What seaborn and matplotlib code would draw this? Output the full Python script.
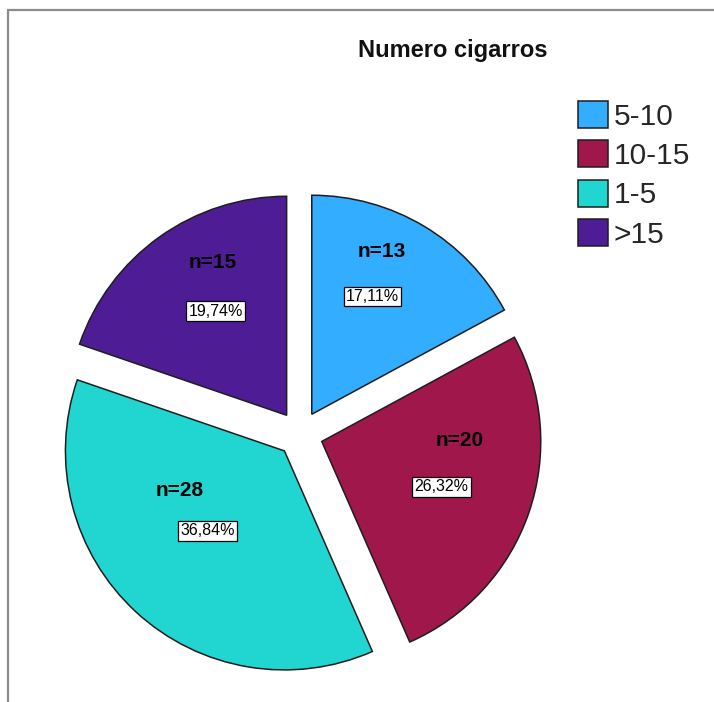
import numpy as np
import matplotlib
matplotlib.use("Agg")
import matplotlib.pyplot as plt
from matplotlib.lines import Line2D
import seaborn as sns

# Number of cigarettes per day: categories, counts and colours
categories = ["5-10", "10-15", "1-5", ">15"]
counts = [13, 20, 28, 15]
colors = ["#33adff", "#a0174b", "#21d6d1", "#4e1d96"]
title = "Numero cigarros"

sns.set_theme(style="white")
plt.rcParams["font.family"] = ["Liberation Sans", "DejaVu Sans"]

W, H, DPI = 714, 702, 100
fig = plt.figure(figsize=(W / DPI, H / DPI), dpi=DPI)
fig.patch.set_facecolor("white")

# Pie placement in pixels: centre and radius
cx, cy, rad, half = 300, 434, 219, 262
ax = fig.add_axes([(cx - half) / W, (H - cy - half) / H, 2 * half / W, 2 * half / H])

explode_frac = 0.105
wedges, _ = ax.pie(
    counts,
    colors=colors,
    startangle=90,
    counterclock=False,
    explode=[explode_frac] * len(counts),
    radius=1.0,
    wedgeprops=dict(edgecolor="#1e1e1e", linewidth=1.1),
)
# pie() resets the limits, so fix the scale afterwards
lim = half / rad
ax.set_xlim(-lim, lim)
ax.set_ylim(-lim, lim)
ax.set_aspect("equal")
ax.axis("off")

# Labels inside each slice: count and percentage
total = sum(counts)
label_radius = [0.71, 0.69, 0.61, 0.68]
label_turn_deg = [3, -1.5, -1, -1]
n_offsets_px = [(9, 45), (18, 46), (-28, 40), (-3, 49)]
for w, c, lr, tw, (dx, dy) in zip(wedges, counts, label_radius, label_turn_deg, n_offsets_px):
    ang = np.deg2rad((w.theta1 + w.theta2) / 2 + tw)
    px, py = lr * np.cos(ang), lr * np.sin(ang)
    pct = f"{100 * c / total:.2f}%".replace(".", ",")
    ax.text(px, py, pct, ha="center", va="center", fontsize=11.5, color="black",
            bbox=dict(boxstyle="square,pad=0.15", facecolor="white",
                      edgecolor="black", linewidth=0.9))
    ax.text(px + dx / rad, py + dy / rad, f"n={c}", ha="center", va="center",
            fontsize=15, fontweight="bold", color="black")

# Title
fig.text(453 / W, 1 - 50 / H, title, ha="center", va="center",
         fontsize=17, fontweight="bold", color="#111111")

# Legend with square patches
leg = fig.legend(
    wedges, categories,
    loc="upper left", bbox_to_anchor=(578 / W, 1 - 101 / H),
    bbox_transform=fig.transFigure,
    frameon=False, fontsize=21.5,
    handlelength=1.0, handleheight=1.0, handletextpad=0.2,
    labelspacing=0.33, borderpad=0, borderaxespad=0,
)

# Chart frame (top and left edges)
frame_kw = dict(color="#8c8c8c", linewidth=1.6, transform=fig.transFigure)
fig.add_artist(Line2D([8 / W, 1], [1 - 10 / H, 1 - 10 / H], **frame_kw))
fig.add_artist(Line2D([8 / W, 8 / W], [0, 1 - 10 / H], **frame_kw))

fig.savefig("out.png", dpi=DPI, facecolor="white")
